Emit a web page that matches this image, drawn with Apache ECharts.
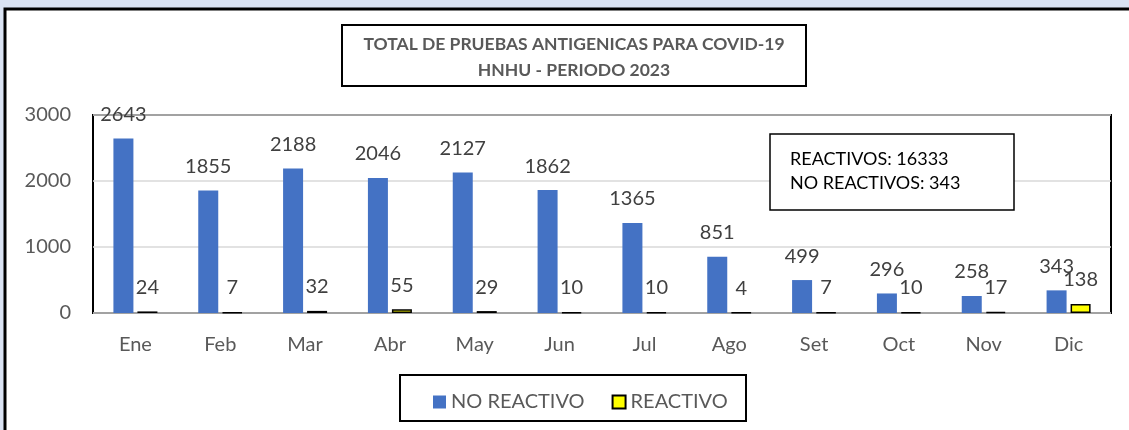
<!DOCTYPE html>
<html>
<head>
	<meta charset="utf-8">
	<title></title>
	<script src="https://cdn.jsdelivr.net/npm/echarts@6/dist/echarts.min.js"></script>
	<style>
		html,body{margin:0;padding:0;background:#dae3f3;}
		#chart{width:1129px;height:430px;}
	</style>
</head>
<body>
	<div id="chart"></div>
</body>
<script type="text/javascript">
	var meses=['Ene','Feb','Mar','Abr','May','Jun','Jul','Ago','Set','Oct','Nov','Dic'];
	var noReactivo=[2643,1855,2188,2046,2127,1862,1365,851,499,296,258,343];
	var reactivo=[24,7,32,55,29,10,10,4,7,10,17,138];
	var yTicks=[0,1000,2000,3000];
	var tituloLineas=['TOTAL DE PRUEBAS ANTIGENICAS PARA COVID-19','HNHU - PERIODO 2023'];
	var resumen=['REACTIVOS: 16333','NO REACTIVOS: 343'];

	var fuente='Lato';
	var myChart=echarts.init(document.getElementById('chart'));
	var option={
		backgroundColor:'#dae3f3',
		textStyle:{fontFamily:fuente},
		grid:{
			left:93,right:18,top:115,bottom:117,
			show:true,borderColor:'#000',borderWidth:2,backgroundColor:'transparent'
		},
		legend:{
			left:428,top:387,z:20,
			itemWidth:13,itemHeight:13,itemGap:27,
			icon:'rect',
			textStyle:{color:'#595959',fontSize:20,fontFamily:fuente},
			data:['NO REACTIVO','REACTIVO']
		},
		xAxis:{
			type:'category',
			data:meses,
			axisLine:{show:false},
			axisTick:{show:false},
			axisLabel:{color:'#595959',fontSize:20,margin:22}
		},
		yAxis:{
			type:'value',
			min:yTicks[0],max:yTicks[yTicks.length-1],interval:1000,
			axisLine:{show:false},
			axisTick:{show:false},
			splitLine:{lineStyle:{color:'#d9d9d9',width:1.5}},
			axisLabel:{color:'#595959',fontSize:20,margin:22,formatter:function(v){return String(v);}}
		},
		series:[
			{
				name:'NO REACTIVO',
				type:'bar',
				barWidth:20,
				barGap:'20%',
				data:noReactivo,
				itemStyle:{color:'#4472c4'},
				label:{show:true,position:'top',distance:14,color:'#404040',fontSize:20,fontFamily:fuente}
			},
			{
				name:'REACTIVO',
				type:'bar',
				barWidth:20,
				data:reactivo,
				itemStyle:{color:'#ffff00',borderColor:'#000',borderWidth:1.5},
				label:{show:true,position:'top',distance:14,color:'#404040',fontSize:20,fontFamily:fuente}
			}
		],
		graphic:[
			{
				type:'rect',z:-10,silent:true,
				shape:{x:5,y:9,width:1140,height:440},
				style:{fill:'#fff',stroke:'#000',lineWidth:3}
			},
			{
				type:'rect',z:5,silent:true,
				shape:{x:342,y:25,width:464,height:61},
				style:{fill:'#fff',stroke:'#000',lineWidth:2}
			},
			{
				type:'text',z:6,silent:true,
				style:{
					text:tituloLineas.join('\n'),
					x:574,y:31,
					fill:'#595959',font:'bold 17.5px '+fuente,
					align:'center',verticalAlign:'top',lineHeight:26
				}
			},
			{
				type:'rect',z:5,silent:true,
				shape:{x:770,y:134,width:244,height:76},
				style:{fill:'#fff',stroke:'#000',lineWidth:1.5}
			},
			{
				type:'text',z:6,silent:true,
				style:{
					text:resumen.join('\n'),
					x:790,y:147,
					fill:'#000',font:'18px '+fuente,lineHeight:24,verticalAlign:'top'
				}
			},
			{
				type:'rect',z:1,silent:true,
				shape:{x:400,y:375,width:346,height:46},
				style:{fill:'#fff',stroke:'#000',lineWidth:2}
			}
		]
	};
	myChart.setOption(option);
	window.addEventListener('resize',()=>{
		myChart.resize();
	});
</script>
</html>
